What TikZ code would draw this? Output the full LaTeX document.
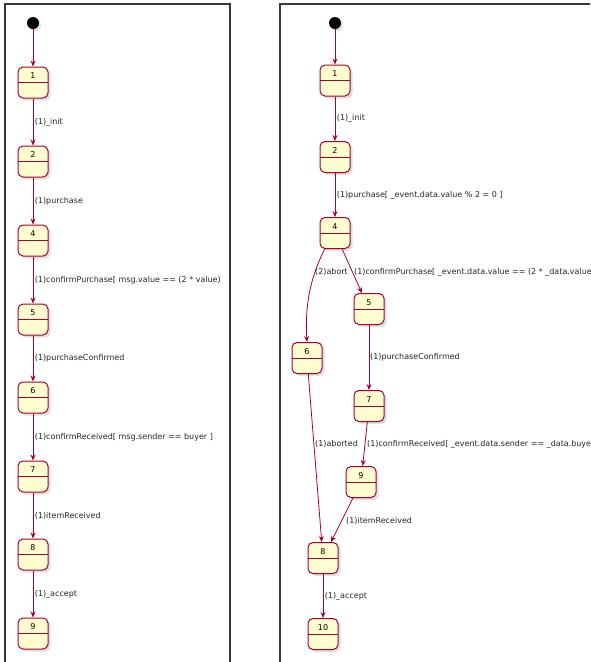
\documentclass[tikz,border=0pt]{standalone}
\usepackage{fontspec}
\setmainfont{DejaVu Sans}
\usetikzlibrary{arrows.meta,shadows}
\definecolor{statecol}{HTML}{A80036}
\definecolor{statefill}{HTML}{FEFECE}
\definecolor{framecol}{HTML}{383838}
\tikzset{
  st/.style={draw=statecol, fill=statefill, rounded corners=5pt, line width=1pt,
    minimum width=30pt, minimum height=31pt, inner sep=0pt,
    text height=6pt, text depth=14pt, font=\fontsize{8}{9}\selectfont,
    drop shadow={opacity=0.25, shadow xshift=2.5pt, shadow yshift=-2.5pt},
    path picture={\draw[statecol, line width=1pt] (path picture bounding box.west) -- (path picture bounding box.east);}},
  init/.style={circle, fill=black, minimum size=12pt, inner sep=0pt,
    drop shadow={opacity=0.25, shadow xshift=2pt, shadow yshift=-2pt}},
  tr/.style={draw=statecol, line width=0.8pt, -{Stealth[length=6pt,width=5pt,inset=2pt]}},
  lab/.style={anchor=west, inner sep=0pt, font=\fontsize{8}{9}\selectfont, text=black!85},
  frame/.style={draw=framecol, line width=1.2pt}
}
\begin{document}
\begin{tikzpicture}[x=1pt,y=-1pt]
\useasboundingbox (0,0) rectangle (590,662);
\clip (0,0) rectangle (590,662);
\fill[white] (0,0) rectangle (590,662);
% frames
\draw[frame] (5,700) -- (5,4) -- (230,4) -- (230,700);
\draw[frame] (280,700) -- (280,4) -- (620,4);
% ---------------- left panel ----------------
\node[init] (li) at (33,23) {};
\node[st] (l1) at (33,82.5) {1};
\node[st] (l2) at (33,161.5) {2};
\node[st] (l4) at (33,240.5) {4};
\node[st] (l5) at (33,319.5) {5};
\node[st] (l6) at (33,397.5) {6};
\node[st] (l7) at (33,476.5) {7};
\node[st] (l8) at (33,554.5) {8};
\node[st] (l9) at (33,633.5) {9};
\draw[tr] (li) -- (l1);
\draw[tr] (l1) -- node[lab, xshift=1.5pt] (la) {(1)\_init} (l2);
\draw[tr] (l2) -- node[lab, xshift=1.5pt] (lb) {(1)purchase} (l4);
\draw[tr] (l4) -- node[lab, xshift=1.5pt] (lc) {(1)confirmPurchase[ msg.value == (2 * value)} (l5);
\draw[tr] (l5) -- node[lab, xshift=1.5pt] (ld) {(1)purchaseConfirmed} (l6);
\draw[tr] (l6) -- node[lab, xshift=1.5pt] (le) {(1)confirmReceived[ msg.sender == buyer ]} (l7);
\draw[tr] (l7) -- node[lab, xshift=1.5pt] (lf) {(1)itemReceived} (l8);
\draw[tr] (l8) -- node[lab, xshift=1.5pt] (lg) {(1)\_accept} (l9);
% ---------------- right panel ----------------
\node[init] (ri) at (335,23) {};
\node[st] (r1) at (335,80.5) {1};
\node[st] (r2) at (335,157) {2};
\node[st] (r4) at (335,233) {4};
\node[st] (r5) at (369,309) {5};
\node[st] (r6) at (307,358) {6};
\node[st] (r7) at (369,406) {7};
\node[st] (r9) at (361,482) {9};
\node[st] (r8) at (323,558) {8};
\node[st] (r10) at (323,634) {10};
\draw[tr] (ri) -- (r1);
\draw[tr] (r1) -- node[lab, xshift=1.5pt] (ra) {(1)\_init} (r2);
\draw[tr] (r2) -- node[lab, xshift=1.5pt] (rb) {(1)purchase[ \_event.data.value \% 2 = 0 ]} (r4);
\coordinate (r4s) at (325,248.5);
\draw[tr] (r4s) .. controls (316,266) and (304,295) .. (r6.north);
\draw[tr] (r4) -- (r5);
\draw[tr] (r5) -- (r7);
\draw[tr] (r6) -- (r8);
\draw[tr] (r7) -- (r9);
\draw[tr] (r9) -- (r8);
\draw[tr] (r8) -- node[lab, xshift=1.5pt] (rk) {(1)\_accept} (r10);
\node[lab] (rc) at (315,272) {(2)abort};
\node[lab] (rd) at (354,272) {(1)confirmPurchase[ \_event.data.value == (2 * \_data.value};
\node[lab] (re) at (370,357) {(1)purchaseConfirmed};
\node[lab] (rf) at (315,444) {(1)aborted};
\node[lab] (rg) at (367,444) {(1)confirmReceived[ \_event.data.sender == \_data.buyer};
\node[lab] (rh) at (346,521) {(1)itemReceived};
\end{tikzpicture}
\end{document}
